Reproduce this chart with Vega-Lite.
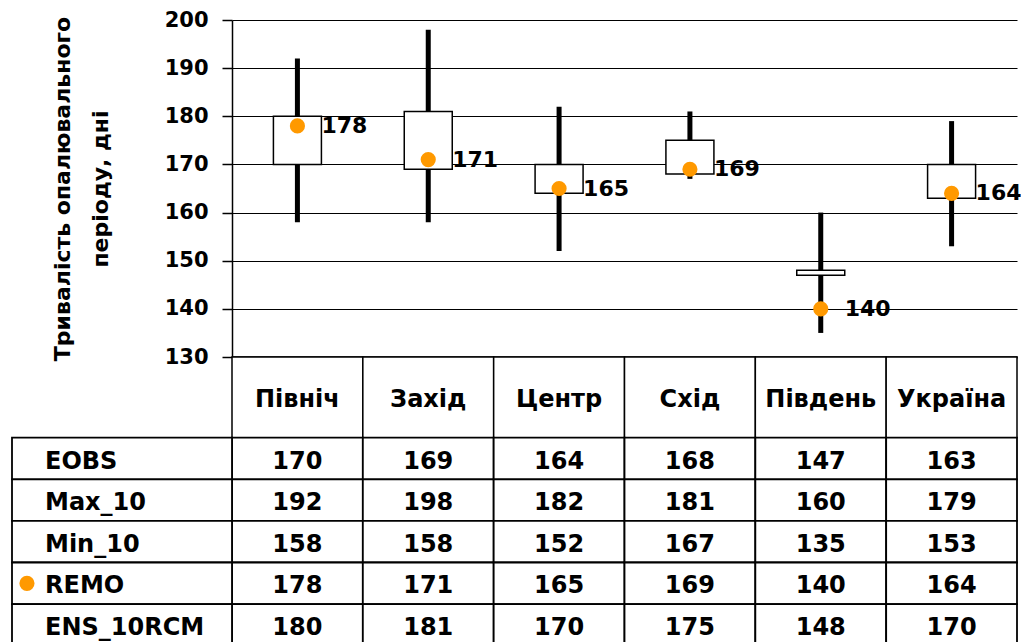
{
  "$schema": "https://vega.github.io/schema/vega-lite/v6.json",
  "width": 785,
  "height": 337,
  "autosize": {"type": "none"},
  "padding": {"left": 232, "top": 20, "right": 4, "bottom": 285},
  "background": "white",
  "config": {"view": {"stroke": null}, "font": "DejaVu Sans"},
  "datasets": {
    "d": [
      {"region": "Північ", "EOBS": 170, "Max_10": 192, "Min_10": 158, "REMO": 178, "ENS_10RCM": 180},
      {"region": "Захід", "EOBS": 169, "Max_10": 198, "Min_10": 158, "REMO": 171, "ENS_10RCM": 181},
      {"region": "Центр", "EOBS": 164, "Max_10": 182, "Min_10": 152, "REMO": 165, "ENS_10RCM": 170},
      {"region": "Схід", "EOBS": 168, "Max_10": 181, "Min_10": 167, "REMO": 169, "ENS_10RCM": 175},
      {"region": "Південь", "EOBS": 147, "Max_10": 160, "Min_10": 135, "REMO": 140, "ENS_10RCM": 148},
      {"region": "Україна", "EOBS": 163, "Max_10": 179, "Min_10": 153, "REMO": 164, "ENS_10RCM": 170}
    ]
  },
  "resolve": {"scale": {"x": "independent", "y": "independent"}, "axis": {"x": "independent", "y": "independent"}},
  "layer": [
    {
      "data": {"name": "d"},
      "encoding": {
        "x": {"field": "region", "type": "nominal",
              "scale": {"type": "band", "domain": ["Північ", "Захід", "Центр", "Схід", "Південь", "Україна"], "paddingInner": 0, "paddingOuter": 0},
              "axis": {"labels": false, "ticks": false, "title": null, "domain": true, "domainColor": "black", "domainWidth": 2.5, "grid": false}}
      },
      "layer": [
        {
          "mark": {"type": "rule", "strokeWidth": 5, "color": "black"},
          "encoding": {
            "y": {"field": "Min_10", "type": "quantitative",
                  "scale": {"domain": [130, 200], "nice": false, "zero": false},
                  "axis": {"title": ["Тривалість опалювального", "періоду, дні"],
                           "values": [130, 140, 150, 160, 170, 180, 190, 200],
                           "grid": true, "gridColor": "black", "gridWidth": 1.2, "gridOpacity": 1,
                           "domainColor": "black", "domainWidth": 1.5,
                           "tickColor": "black", "tickSize": 10, "tickWidth": 1.5,
                           "labelFontSize": 21, "labelFontWeight": "bold", "labelColor": "black", "labelFont": "DejaVu Sans", "labelPadding": 14,
                           "titleFontSize": 22, "titleFontWeight": "bold", "titleColor": "black", "titleFont": "DejaVu Sans",
                           "titleLineHeight": 38, "titlePadding": 52}},
            "y2": {"field": "Max_10"}
          }
        },
        {
          "mark": {"type": "bar", "size": 48, "fill": "white", "stroke": "black", "strokeWidth": 1.5},
          "encoding": {"y": {"field": "EOBS", "type": "quantitative"}, "y2": {"field": "ENS_10RCM"}}
        },
        {
          "mark": {"type": "point", "filled": true, "shape": "circle", "size": 230, "color": "#FF9900", "opacity": 1},
          "encoding": {"y": {"field": "REMO", "type": "quantitative"}}
        },
        {
          "mark": {"type": "text", "align": "left", "baseline": "middle", "dx": 24, "fontSize": 22, "fontWeight": "bold", "color": "black"},
          "encoding": {"y": {"field": "REMO", "type": "quantitative"}, "text": {"field": "REMO", "type": "quantitative"}}
        }
      ]
    },
    {
      "data": {"name": "d"},
      "encoding": {
        "x": {"field": "region", "type": "nominal",
              "scale": {"type": "band", "domain": ["Північ", "Захід", "Центр", "Схід", "Південь", "Україна"], "paddingInner": 0, "paddingOuter": 0},
              "axis": null},
        "y": {"datum": "h", "type": "nominal",
              "scale": {"type": "band", "domain": ["h"], "range": [337, 417.7], "paddingInner": 0, "paddingOuter": 0},
              "axis": null}
      },
      "layer": [
        {"mark": {"type": "rect", "fill": "white", "stroke": "black", "strokeWidth": 1.5}},
        {"mark": {"type": "text", "fontSize": 24, "fontWeight": "bold", "color": "black", "baseline": "middle", "dy": 3},
         "encoding": {"text": {"field": "region", "type": "nominal"}}}
      ]
    },
    {
      "data": {"name": "d"},
      "transform": [{"fold": ["EOBS", "Max_10", "Min_10", "REMO", "ENS_10RCM"], "as": ["row", "value"]}],
      "encoding": {
        "x": {"field": "region", "type": "nominal",
              "scale": {"type": "band", "domain": ["Північ", "Захід", "Центр", "Схід", "Південь", "Україна"], "paddingInner": 0, "paddingOuter": 0},
              "axis": null},
        "y": {"field": "row", "type": "nominal",
              "scale": {"type": "band", "domain": ["EOBS", "Max_10", "Min_10", "REMO", "ENS_10RCM"], "range": [417.7, 625.7], "paddingInner": 0, "paddingOuter": 0},
              "axis": null}
      },
      "layer": [
        {"mark": {"type": "rect", "fill": "white", "stroke": "black", "strokeWidth": 1.8}},
        {"mark": {"type": "text", "fontSize": 24, "fontWeight": "bold", "color": "black", "baseline": "middle", "dy": 3},
         "encoding": {"text": {"field": "value", "type": "quantitative"}}}
      ]
    },
    {
      "data": {"name": "d"},
      "transform": [
        {"fold": ["EOBS", "Max_10", "Min_10", "REMO", "ENS_10RCM"], "as": ["row", "value"]},
        {"aggregate": [{"op": "count", "as": "n"}], "groupby": ["row"]}
      ],
      "encoding": {
        "y": {"field": "row", "type": "nominal",
              "scale": {"type": "band", "domain": ["EOBS", "Max_10", "Min_10", "REMO", "ENS_10RCM"], "range": [417.7, 625.7], "paddingInner": 0, "paddingOuter": 0},
              "axis": null}
      },
      "layer": [
        {"mark": {"type": "rect", "fill": "white", "stroke": "black", "strokeWidth": 1.8},
         "encoding": {"x": {"datum": "lab", "type": "nominal",
                            "scale": {"type": "band", "domain": ["lab"], "range": [-220, 0], "paddingInner": 0, "paddingOuter": 0},
                            "axis": null}}},
        {"mark": {"type": "text", "align": "left", "baseline": "middle", "fontSize": 24, "fontWeight": "bold", "color": "black", "dy": 3},
         "encoding": {"x": {"datum": "lab", "type": "nominal", "bandPosition": 0.15,
                            "scale": {"type": "band", "domain": ["lab"], "range": [-220, 0], "paddingInner": 0, "paddingOuter": 0},
                            "axis": null},
                      "text": {"field": "row", "type": "nominal"}}},
        {"transform": [{"filter": "datum.row === 'REMO'"}],
         "mark": {"type": "point", "filled": true, "shape": "circle", "size": 230, "color": "#FF9900", "opacity": 1, "dy": 3},
         "encoding": {"x": {"datum": "lab", "type": "nominal", "bandPosition": 0.068,
                            "scale": {"type": "band", "domain": ["lab"], "range": [-220, 0], "paddingInner": 0, "paddingOuter": 0},
                            "axis": null}}}
      ]
    }
  ]
}
